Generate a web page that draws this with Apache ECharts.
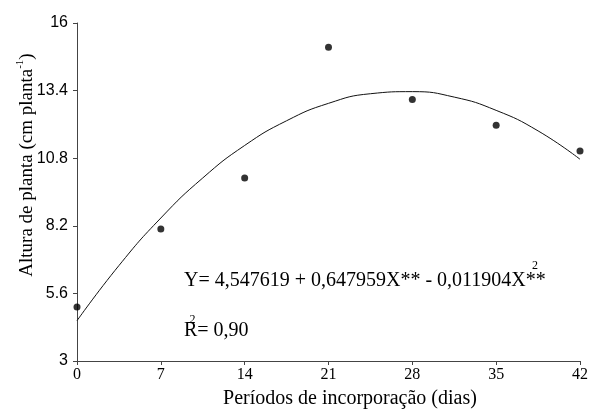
<!DOCTYPE html>
<html><head><meta charset="utf-8">
<script src="https://cdn.jsdelivr.net/npm/echarts@6/dist/echarts.min.js"></script>
<style>html,body{margin:0;padding:0;background:#fff}#c{width:591px;height:410px}</style>
</head><body><div id="c"></div>
<script>
// Observed data
const days = [0, 7, 14, 21, 28, 35, 42];
const heights = [5.08, 8.08, 10.04, 15.07, 13.06, 12.07, 11.08];
// Fitted curve as drawn
const curveDays = [0, 3.5, 7, 10.5, 14, 17.5, 21, 24.5, 28, 31.5, 35, 38.5, 42];
const curveHeights = [4.55, 6.67, 8.50, 10.04, 11.29, 12.24, 12.91, 13.28, 13.36, 13.15, 12.64, 11.85, 10.76];
const xTicks = [0, 7, 14, 21, 28, 35, 42];
const yTicks = [3, 5.6, 8.2, 10.8, 13.4, 16];
const yTickLabels = ['3', '5.6', '8.2', '10.8', '13.4', '16'];

const chart = echarts.init(document.getElementById('c'), null, {renderer: 'canvas'});
const serif = '"Liberation Serif", "Times New Roman", serif';
const sans = '"Liberation Sans", Arial, sans-serif';
const axisColor = '#444';
chart.setOption({
  animation: false,
  grid: {left: 77, right: 10, top: 23, bottom: 49},
  xAxis: {
    type: 'value', min: 0, max: 42, interval: 7,
    axisLine: {show: true, lineStyle: {color: axisColor, width: 1}},
    axisTick: {show: true, length: 4, customValues: xTicks, lineStyle: {color: axisColor}},
    splitLine: {show: false},
    axisLabel: {color: '#000', fontFamily: serif, fontSize: 16, margin: 6, customValues: xTicks}
  },
  yAxis: {
    type: 'value', min: 3, max: 16,
    axisLine: {show: true, lineStyle: {color: axisColor, width: 1}},
    axisTick: {show: true, length: 4, customValues: yTicks, lineStyle: {color: axisColor}},
    splitLine: {show: false},
    axisLabel: {color: '#000', fontFamily: sans, fontSize: 16, margin: 9,
      customValues: yTicks,
      formatter: v => { const i = yTicks.findIndex(t => Math.abs(t - v) < 1e-6); return i >= 0 ? yTickLabels[i] : ''; }}
  },
  series: [
    {type: 'line', data: curveDays.map((d, i) => [d, curveHeights[i]]), smooth: true,
      showSymbol: false, lineStyle: {color: '#111', width: 1}, z: 2},
    {type: 'scatter', data: days.map((d, i) => [d, heights[i]]), symbolSize: 7,
      itemStyle: {color: '#000'}, z: 3}
  ],
  graphic: [
    {type: 'text', x: 26, y: 165, rotation: Math.PI / 2,
      style: {text: '{a|Altura de planta (cm planta}{s|-1}{a|)}', align: 'center', verticalAlign: 'middle',
        rich: {
          a: {fill: '#000', fontFamily: serif, fontSize: 19, lineHeight: 22, verticalAlign: 'bottom'},
          s: {fill: '#000', fontFamily: serif, fontSize: 11, lineHeight: 22, verticalAlign: 'top'}
        }}},
    {type: 'text', x: 350, y: 399,
      style: {text: 'Períodos de incorporação (dias)', fontFamily: serif, fontSize: 20, fill: '#000', align: 'center', verticalAlign: 'middle'}},
    {type: 'text', x: 184, y: 281, style: {text: 'Y= 4,547619 + 0,647959X** - 0,011904X**', fontFamily: serif, fontSize: 20, fill: '#000', align: 'left', verticalAlign: 'middle'}},
    {type: 'text', x: 535, y: 266, style: {text: '2', fontFamily: serif, fontSize: 12, fill: '#000', align: 'center', verticalAlign: 'middle'}},
    {type: 'text', x: 184, y: 331, style: {text: 'R= 0,90', fontFamily: serif, fontSize: 20, fill: '#000', align: 'left', verticalAlign: 'middle'}},
    {type: 'text', x: 192.5, y: 320, style: {text: '2', fontFamily: serif, fontSize: 12, fill: '#000', align: 'center', verticalAlign: 'middle'}}
  ]
});
</script></body></html>
